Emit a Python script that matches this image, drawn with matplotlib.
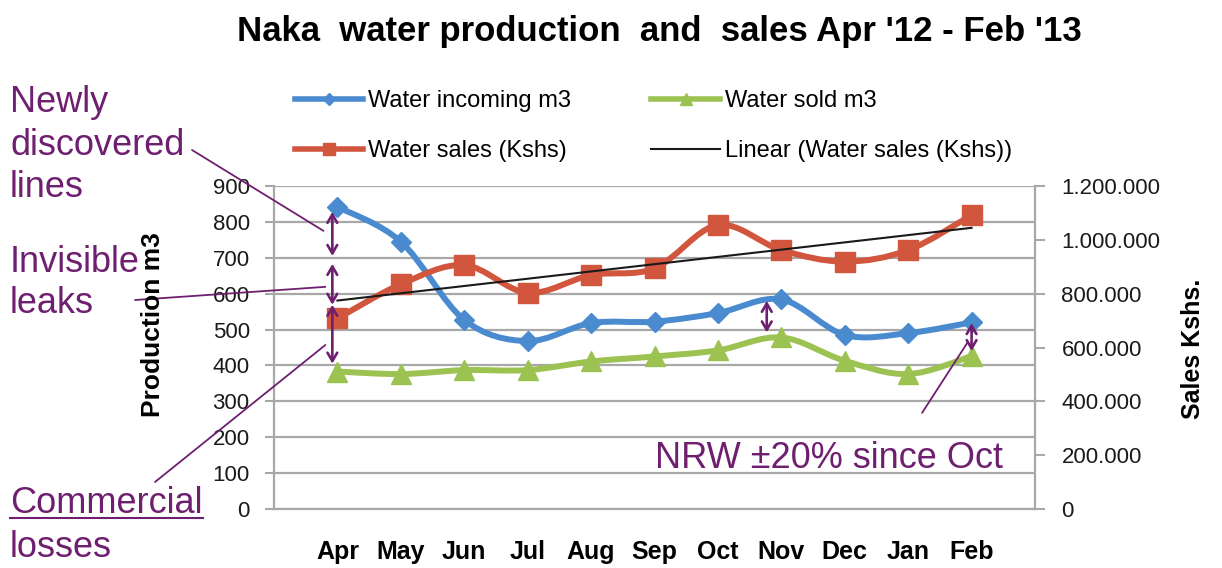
import numpy as np
import matplotlib
matplotlib.use('Agg')
import matplotlib.pyplot as plt
from matplotlib.path import Path
from matplotlib.patches import PathPatch
from matplotlib.lines import Line2D
from matplotlib.ticker import FuncFormatter, MultipleLocator, FixedLocator

plt.rcParams['font.family'] = ['Liberation Sans', 'DejaVu Sans']

# data
months = ['Apr', 'May', 'Jun', 'Jul', 'Aug', 'Sep', 'Oct', 'Nov', 'Dec', 'Jan', 'Feb']
water_incoming = [842, 745, 527, 468, 518, 522, 546, 584, 485, 490, 520]
water_sold = [383, 376, 387, 387, 411, 425, 442, 478, 413, 376, 426]
water_sales = [708000, 835000, 906000, 803000, 869000, 894000, 1055000, 962000, 919000, 962000, 1092000]

# NRW arrows (x position, value from, value to) on production axis
loss_arrows = [(-0.08, 828, 705), (-0.08, 683, 569), (-0.08, 569, 405),
               (6.77, 580, 492), (10.0, 518, 440)]

blue = '#4a8bd0'
red = '#d2553d'
green = '#9cc252'
purple = '#6e1f6f'
grid_c = '#a8a8a8'

W, H = 1222, 568
fig = plt.figure(figsize=(W / 100, H / 100), dpi=100)
ax = fig.add_axes([274 / W, 1 - 509 / H, (1035 - 274) / W, (509 - 186) / H])
ax2 = ax.twinx()

x = np.arange(len(months))


def smooth_path(xs, ys):
    # excel style smoothed line: catmull-rom as cubic bezier segments
    pts = np.column_stack([xs, ys]).astype(float)
    n = len(pts)
    verts = [pts[0]]
    codes = [Path.MOVETO]
    for i in range(n - 1):
        p0 = pts[i - 1] if i > 0 else pts[i]
        p1, p2 = pts[i], pts[i + 1]
        p3 = pts[i + 2] if i + 2 < n else pts[i + 1]
        verts += [p1 + (p2 - p0) / 6, p2 - (p3 - p1) / 6, p2]
        codes += [Path.CURVE4] * 3
    return Path(verts, codes)


def draw_series(a, y, color, marker, ms, z):
    a.add_patch(PathPatch(smooth_path(x, y), fill=False, edgecolor=color, lw=4.3,
                          capstyle='round', joinstyle='round', zorder=z))
    a.plot(x, y, ls='none', marker=marker, ms=ms, color=color, zorder=z + 0.1)


draw_series(ax, water_incoming, blue, 'D', 10, 3)
draw_series(ax, water_sold, green, '^', 15, 3)
draw_series(ax2, water_sales, red, 's', 14, 3)

coef = np.polyfit(x, water_sales, 1)
ax2.plot(x, np.polyval(coef, x), color='#1a1a1a', lw=1.5, zorder=5)

# axes styling
ax.set_xlim(-1, 11)
ax.set_ylim(0, 900)
ax2.set_ylim(0, 1200000)
ax.yaxis.set_major_locator(MultipleLocator(100))
ax2.yaxis.set_major_locator(MultipleLocator(200000))
ax2.yaxis.set_major_formatter(FuncFormatter(lambda v, p: f"{v:,.0f}".replace(',', '.')))
ax.yaxis.grid(True, color=grid_c, lw=1.6)
ax.set_axisbelow(True)

ax.set_xticks(x)
ax.set_xticklabels(months, fontweight='bold', fontsize=18)
ax.xaxis.set_minor_locator(FixedLocator([1, 3, 5, 7, 9]))
ax.tick_params(axis='x', which='major', length=0, pad=22)
ax.tick_params(axis='x', which='minor', length=7, width=1.5, color=grid_c, direction='out')
ax.tick_params(axis='y', length=6.5, width=1.5, color=grid_c, labelsize=16, pad=11, labelcolor='#1a1a1a')
ax2.tick_params(axis='y', length=7, width=1.5, color=grid_c, labelsize=16, pad=12, labelcolor='#1a1a1a')

for s in ['top', 'right']:
    ax.spines[s].set_visible(False)
for s in ['top', 'left', 'bottom']:
    ax2.spines[s].set_visible(False)
for sp in [ax.spines['left'], ax.spines['bottom'], ax2.spines['right']]:
    sp.set_color(grid_c)
    sp.set_linewidth(1.6)


def fpos(px, py):
    return px / W, 1 - py / H


fig.text(*fpos(659, 41), "Naka  water production  and  sales Apr '12 - Feb '13",
         ha='center', va='baseline', fontsize=25, fontweight='bold')
fig.text(*fpos(153, 325), 'Production m3', rotation=90, ha='center', va='center',
         fontsize=19, fontweight='bold')
fig.text(*fpos(1193, 349), 'Sales Kshs.', rotation=90, ha='center', va='center',
         fontsize=18, fontweight='bold')

# legend
handles = [Line2D([], [], color=blue, lw=4, marker='D', ms=6),
           Line2D([], [], color=red, lw=4, marker='s', ms=9),
           Line2D([], [], color=green, lw=4, marker='^', ms=8),
           Line2D([], [], color='#1a1a1a', lw=1.5)]
labels = ['Water incoming m3', 'Water sales (Kshs)', 'Water sold m3', 'Linear (Water sales (Kshs))']
fig.legend(handles, labels, ncol=2, loc='upper left', bbox_to_anchor=fpos(295, 90),
           frameon=False, fontsize=17, handlelength=2.9, handletextpad=0.2,
           columnspacing=3.4, labelspacing=1.2, borderpad=0, borderaxespad=0)

# loss arrows
for ax_x, v0, v1 in loss_arrows:
    ax2.annotate('', xy=(ax_x, v1), xytext=(ax_x, v0), xycoords=ax.transData,
                 textcoords=ax.transData,
                 arrowprops=dict(arrowstyle='<->,head_length=0.6,head_width=0.35',
                                 color=purple, lw=1.9, shrinkA=0, shrinkB=0), zorder=8)

# annotation texts and connectors
notes = [('Newly', 10, 112), ('discovered', 10, 155), ('lines', 10, 197),
         ('Invisible', 10, 272), ('leaks', 10, 313),
         ('Commercial', 10, 513), ('losses', 10, 557)]
txt = {}
for s, px, py in notes:
    txt[s] = fig.text(*fpos(px, py), s, fontsize=26, color=purple, va='baseline')
fig.text(*fpos(655, 468), 'NRW \u00b120% since Oct', fontsize=26, color=purple, va='baseline')

connectors = [((192, 418), (-0.22, 775)), ((135, 268), (-0.19, 619)), ((155, 86), (-0.19, 457))]
for start, end in connectors:
    ax2.annotate('', xy=end, xycoords=ax.transData, xytext=start, textcoords='figure pixels',
                 arrowprops=dict(arrowstyle='-', color=purple, lw=1.3, shrinkA=0, shrinkB=0),
                 annotation_clip=False, zorder=8)
ax2.annotate('', xy=(9.94, 465), xycoords=ax.transData, xytext=(9.22, 268), textcoords=ax.transData,
             arrowprops=dict(arrowstyle='-', color=purple, lw=1.3, shrinkA=0, shrinkB=0), zorder=8)

# underline "Commercial"
fig.canvas.draw()
bb = txt['Commercial'].get_window_extent().transformed(fig.transFigure.inverted())
fig.add_artist(Line2D([bb.x0, bb.x1], [1 - 518 / H] * 2, color=purple, lw=1.5,
                      transform=fig.transFigure))

fig.savefig('out.png', dpi=100)
